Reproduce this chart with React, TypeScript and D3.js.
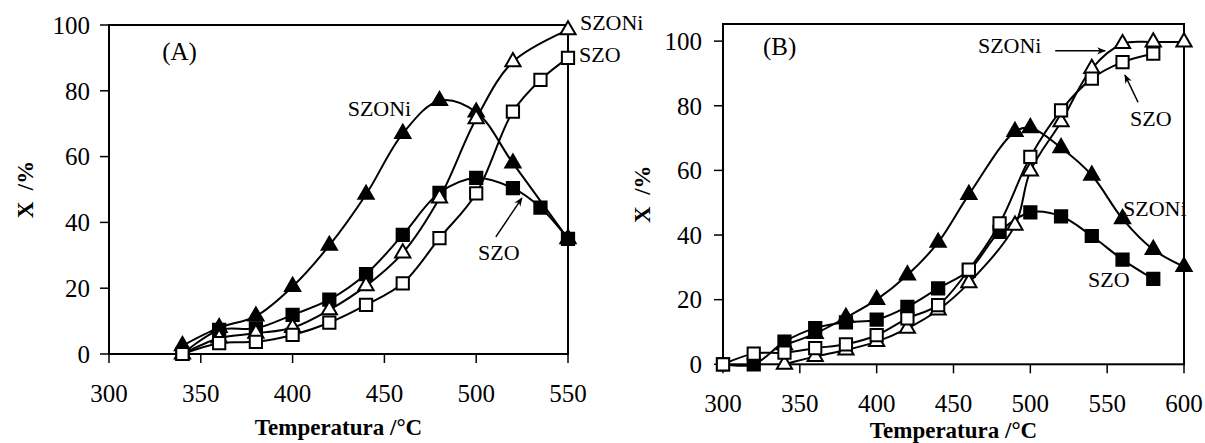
import React from "react";
import * as d3 from "d3";

// ---------- Panel A data ----------
const tempA_triFilled = [340, 360, 380, 400, 420, 440, 460, 480, 500, 520, 550];
const convA_triFilled = [2.5, 8, 11.5, 20.5, 33, 48.5, 67, 77, 73.5, 58, 35];
const tempA_sqFilled = [340, 360, 380, 400, 420, 440, 460, 480, 500, 520, 535, 550];
const convA_sqFilled = [0, 7.3, 7.8, 11.9, 16.5, 24.3, 36.2, 49, 53.5, 50.4, 44.5, 35];
const tempA_triOpen = [340, 360, 380, 400, 420, 440, 460, 480, 500, 520, 550];
const convA_triOpen = [0, 4.8, 6.3, 8, 13.4, 20.7, 30.7, 47.4, 71.5, 88.8, 98.5];
const tempA_sqOpen = [340, 360, 380, 400, 420, 440, 460, 480, 500, 520, 535, 550];
const convA_sqOpen = [0, 3.3, 3.7, 5.8, 9.5, 14.9, 21.5, 35.2, 48.8, 73.7, 83.3, 90];

// ---------- Panel B data ----------
const tempB_triFilled = [340, 360, 380, 400, 420, 440, 460, 490, 500, 520, 540, 560, 580, 600];
const convB_triFilled = [6, 9.5, 14.5, 20, 27.6, 37.7, 52.5, 72, 73.2, 67, 58.5, 45, 35.5, 30.2];
const tempB_sqFilled = [300, 320, 340, 360, 380, 400, 420, 440, 460, 480, 500, 520, 540, 560, 580];
const convB_sqFilled = [0, 0, 7, 11.2, 13, 13.8, 17.8, 23.5, 29, 41, 47, 45.8, 39.7, 32.4, 26.4];
const tempB_triOpen = [340, 360, 380, 400, 420, 440, 460, 490, 500, 520, 540, 560, 580, 600];
const convB_triOpen = [0, 2.4, 4.4, 7, 11.1, 16.8, 25.2, 43, 59.8, 75, 91.5, 99.2, 99.7, 99.7];
const tempB_sqOpen = [300, 320, 340, 360, 380, 400, 420, 440, 460, 480, 500, 520, 540, 560, 580];
const convB_sqOpen = [0, 3.3, 3.6, 5, 6.2, 9, 14.2, 18.3, 29.3, 43.6, 64.2, 78.6, 88.4, 93.5, 96.1];

// ---------- ticks & labels ----------
const ticksAx = [300, 350, 400, 450, 500, 550];
const ticksBx = [300, 350, 400, 450, 500, 550, 600];
const ticksY = [0, 20, 40, 60, 80, 100];
const xTitle = "Temperatura /°C";
const yTitle = "X  /%";

const FONT = "'Liberation Serif', 'Times New Roman', serif";

type Series = { t: number[]; v: number[]; shape: "tri" | "sq"; filled: boolean };

type Ann = { text: string; x: number; y: number; size?: number };
type Arrow = { x1: number; y1: number; x2: number; y2: number };

type PanelProps = {
  left: number; right: number; top: number; bottom: number;
  xDomain: [number, number]; yDomain: [number, number];
  xTicks: number[];
  series: Series[];
  anns: Ann[];
  arrows: Arrow[];
  yLabelGap: number;
  xLabelBaseline: number;
  xTitleBaseline: number;
  yTitleX: number;
  id: string;
};

const triPath = d3.symbol().type(d3.symbolTriangle).size(100)()!;
const sqPath = d3.symbol().type(d3.symbolSquare).size(150)()!;

function Panel(p: PanelProps) {
  const x = d3.scaleLinear().domain(p.xDomain).range([p.left, p.right]);
  const y = d3.scaleLinear().domain(p.yDomain).range([p.bottom, p.top]);
  const line = d3
    .line<[number, number]>()
    .x((d) => x(d[0]))
    .y((d) => y(d[1]))
    .curve(d3.curveCatmullRom.alpha(0.5));
  const tickLen = 9;
  return (
    <g>
      <defs>
        <marker id={`arr-${p.id}`} viewBox="0 0 10 10" refX="9" refY="5" markerWidth="9" markerHeight="9" orient="auto" markerUnits="userSpaceOnUse">
          <path d="M0,1 L10,5 L0,9 L3,5 Z" fill="#000" />
        </marker>
      </defs>
      {/* frame */}
      <rect x={p.left} y={p.top} width={p.right - p.left} height={p.bottom - p.top} fill="none" stroke="#000" strokeWidth={2} />
      {/* y ticks */}
      {ticksY.map((t) => (
        <g key={`yt${t}`}>
          <line x1={p.left - tickLen} x2={p.left} y1={y(t)} y2={y(t)} stroke="#000" strokeWidth={1.5} />
          <text x={p.left - p.yLabelGap} y={y(t)} dy="0.35em" textAnchor="end" fontFamily={FONT} fontSize={25}>{t}</text>
        </g>
      ))}
      {/* x ticks */}
      {p.xTicks.map((t) => (
        <g key={`xt${t}`}>
          <line x1={x(t)} x2={x(t)} y1={p.bottom} y2={p.bottom + tickLen} stroke="#000" strokeWidth={1.5} />
          <text x={x(t)} y={p.xLabelBaseline} textAnchor="middle" fontFamily={FONT} fontSize={25}>{t}</text>
        </g>
      ))}
      {/* titles */}
      <text x={(p.left + p.right) / 2} y={p.xTitleBaseline} textAnchor="middle" fontFamily={FONT} fontSize={23} fontWeight="bold">{xTitle}</text>
      <text transform={`translate(${p.yTitleX},${(p.top + p.bottom) / 2}) rotate(-90)`} textAnchor="middle" fontFamily={FONT} fontSize={23} fontWeight="bold" style={{ whiteSpace: "pre" }}>{yTitle}</text>
      {/* series */}
      {p.series.map((s, i) => {
        const pts = s.t.map((t, j) => [t, s.v[j]] as [number, number]);
        return (
          <g key={`s${i}`}>
            <path d={line(pts)!} fill="none" stroke="#000" strokeWidth={2} />
            {pts.map((d, j) => (
              <path key={j} d={s.shape === "tri" ? triPath : sqPath} transform={`translate(${x(d[0])},${y(d[1])})`} fill={s.filled ? "#000" : "#fff"} stroke="#000" strokeWidth={2} />
            ))}
          </g>
        );
      })}
      {/* annotations */}
      {p.anns.map((a, i) => (
        <text key={`a${i}`} x={x(a.x)} y={y(a.y)} fontFamily={FONT} fontSize={a.size ?? 22}>{a.text}</text>
      ))}
      {p.arrows.map((a, i) => (
        <line key={`ar${i}`} x1={x(a.x1)} y1={y(a.y1)} x2={x(a.x2)} y2={y(a.y2)} stroke="#000" strokeWidth={1.5} markerEnd={`url(#arr-${p.id})`} />
      ))}
    </g>
  );
}

export default function App() {
  const seriesA: Series[] = [
    { t: tempA_triFilled, v: convA_triFilled, shape: "tri", filled: true },
    { t: tempA_sqFilled, v: convA_sqFilled, shape: "sq", filled: true },
    { t: tempA_triOpen, v: convA_triOpen, shape: "tri", filled: false },
    { t: tempA_sqOpen, v: convA_sqOpen, shape: "sq", filled: false },
  ];
  const seriesB: Series[] = [
    { t: tempB_triFilled, v: convB_triFilled, shape: "tri", filled: true },
    { t: tempB_sqFilled, v: convB_sqFilled, shape: "sq", filled: true },
    { t: tempB_triOpen, v: convB_triOpen, shape: "tri", filled: false },
    { t: tempB_sqOpen, v: convB_sqOpen, shape: "sq", filled: false },
  ];
  return (
    <svg width={1205} height={443} style={{ position: "absolute", left: 0, top: 0, background: "#fff" }}>
      <rect width={1205} height={443} fill="#fff" />
      <Panel
        id="A"
        left={109} right={568} top={25} bottom={354}
        xDomain={[300, 550]} yDomain={[0, 100]}
        xTicks={ticksAx}
        series={seriesA}
        anns={[
          { text: "(A)", x: 329, y: 89.4, size: 25 },
          { text: "SZONi", x: 430, y: 72.3 },
          { text: "SZONi", x: 556.5, y: 98.5 },
          { text: "SZO", x: 556, y: 88.7 },
          { text: "SZO", x: 501, y: 28.6 },
        ]}
        arrows={[{ x1: 510.7, y1: 35.6, x2: 524.9, y2: 47.4 }]}
        yLabelGap={19}
        xLabelBaseline={402}
        xTitleBaseline={435}
        yTitleX={33}
      />
      <Panel
        id="B"
        left={723} right={1184} top={24} bottom={364.3}
        xDomain={[300, 600]} yDomain={[0, 105.3]}
        xTicks={ticksBx}
        series={seriesB}
        anns={[
          { text: "(B)", x: 326, y: 95.7, size: 25 },
          { text: "SZONi", x: 465.9, y: 96.3 },
          { text: "SZO", x: 564.9, y: 73.7 },
          { text: "SZONi", x: 560.3, y: 45.9 },
          { text: "SZO", x: 537.5, y: 23.9 },
        ]}
        arrows={[
          { x1: 516.2, y1: 97, x2: 548.7, y2: 97 },
          { x1: 570.1, y1: 81.1, x2: 561.6, y2: 89.5 },
        ]}
        yLabelGap={21}
        xLabelBaseline={412}
        xTitleBaseline={438}
        yTitleX={650}
      />
    </svg>
  );
}
